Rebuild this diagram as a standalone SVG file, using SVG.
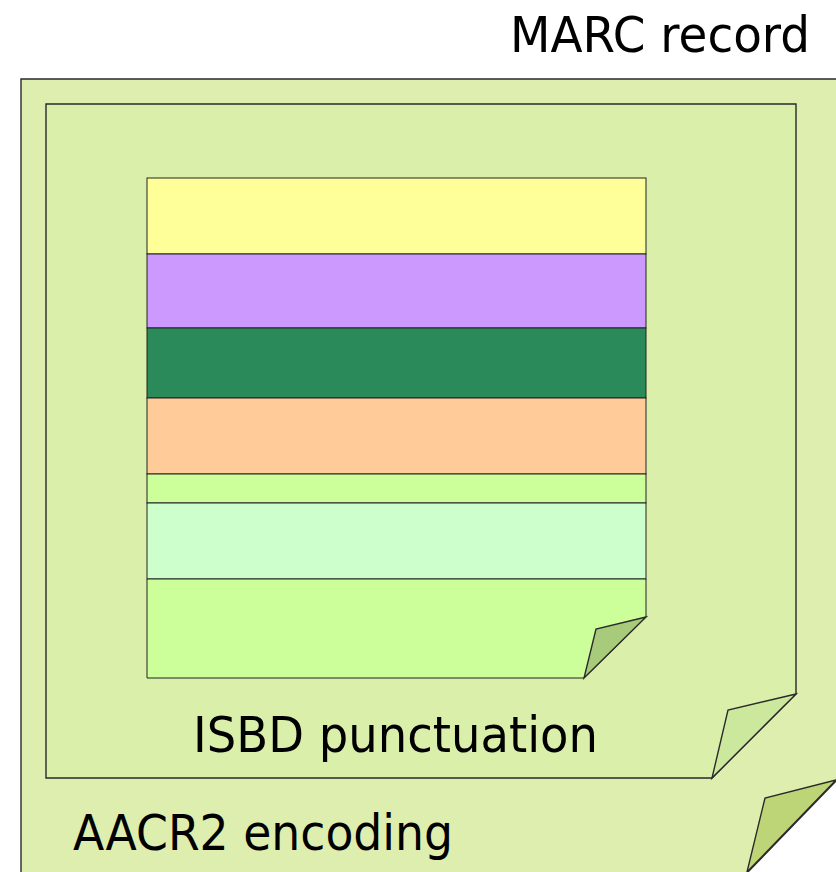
<svg xmlns="http://www.w3.org/2000/svg" width="836" height="872" viewBox="0 0 836 872">
<style>
.edge{stroke:#2a2a2a;stroke-width:1.4;stroke-linejoin:miter}
.lbl{font-family:"DejaVu Sans","Liberation Sans",sans-serif;font-size:50px;fill:#000}
.stripe{stroke:#222;stroke-width:1}
</style>
<rect width="836" height="872" fill="#ffffff"/>
<g id="marc-record">
<path class="edge" d="M21,79 H837 V780 L747,873 H21 Z" fill="#DEEEAE"/>
<path class="edge" d="M836,780 L765,798 L747,872 Z" fill="#BDD577"/>
<text class="lbl" x="510" y="52" textLength="300" lengthAdjust="spacingAndGlyphs">MARC record</text>
</g>
<g id="aacr2-encoding">
<path class="edge" d="M46,104 H796 V694 L712,778 H46 Z" fill="#DAF0AA"/>
<path class="edge" d="M796,694 L728,710 L712,778 Z" fill="#CCE89C"/>
<text class="lbl" x="73" y="850" textLength="380" lengthAdjust="spacingAndGlyphs">AACR2 encoding</text>
</g>
<g id="isbd-punctuation">
<rect class="stripe" x="147" y="178" width="499" height="76" fill="#FFFF99"/>
<rect class="stripe" x="147" y="254" width="499" height="74" fill="#CC99FF"/>
<rect class="stripe" x="147" y="328" width="499" height="70" fill="#2B8A59"/>
<rect class="stripe" x="147" y="398" width="499" height="76" fill="#FFCC99"/>
<rect class="stripe" x="147" y="474" width="499" height="29" fill="#CCFF99"/>
<rect class="stripe" x="147" y="503" width="499" height="76" fill="#CCFFCC"/>
<path class="stripe" d="M147,579 H646 V617 L584,678 H147 Z" fill="#CCFF99"/>
<path class="edge" d="M646,617 L596,629 L584,678 Z" fill="#A7CA7B"/>
<text class="lbl" x="193" y="752" textLength="405" lengthAdjust="spacingAndGlyphs">ISBD punctuation</text>
</g>
</svg>
